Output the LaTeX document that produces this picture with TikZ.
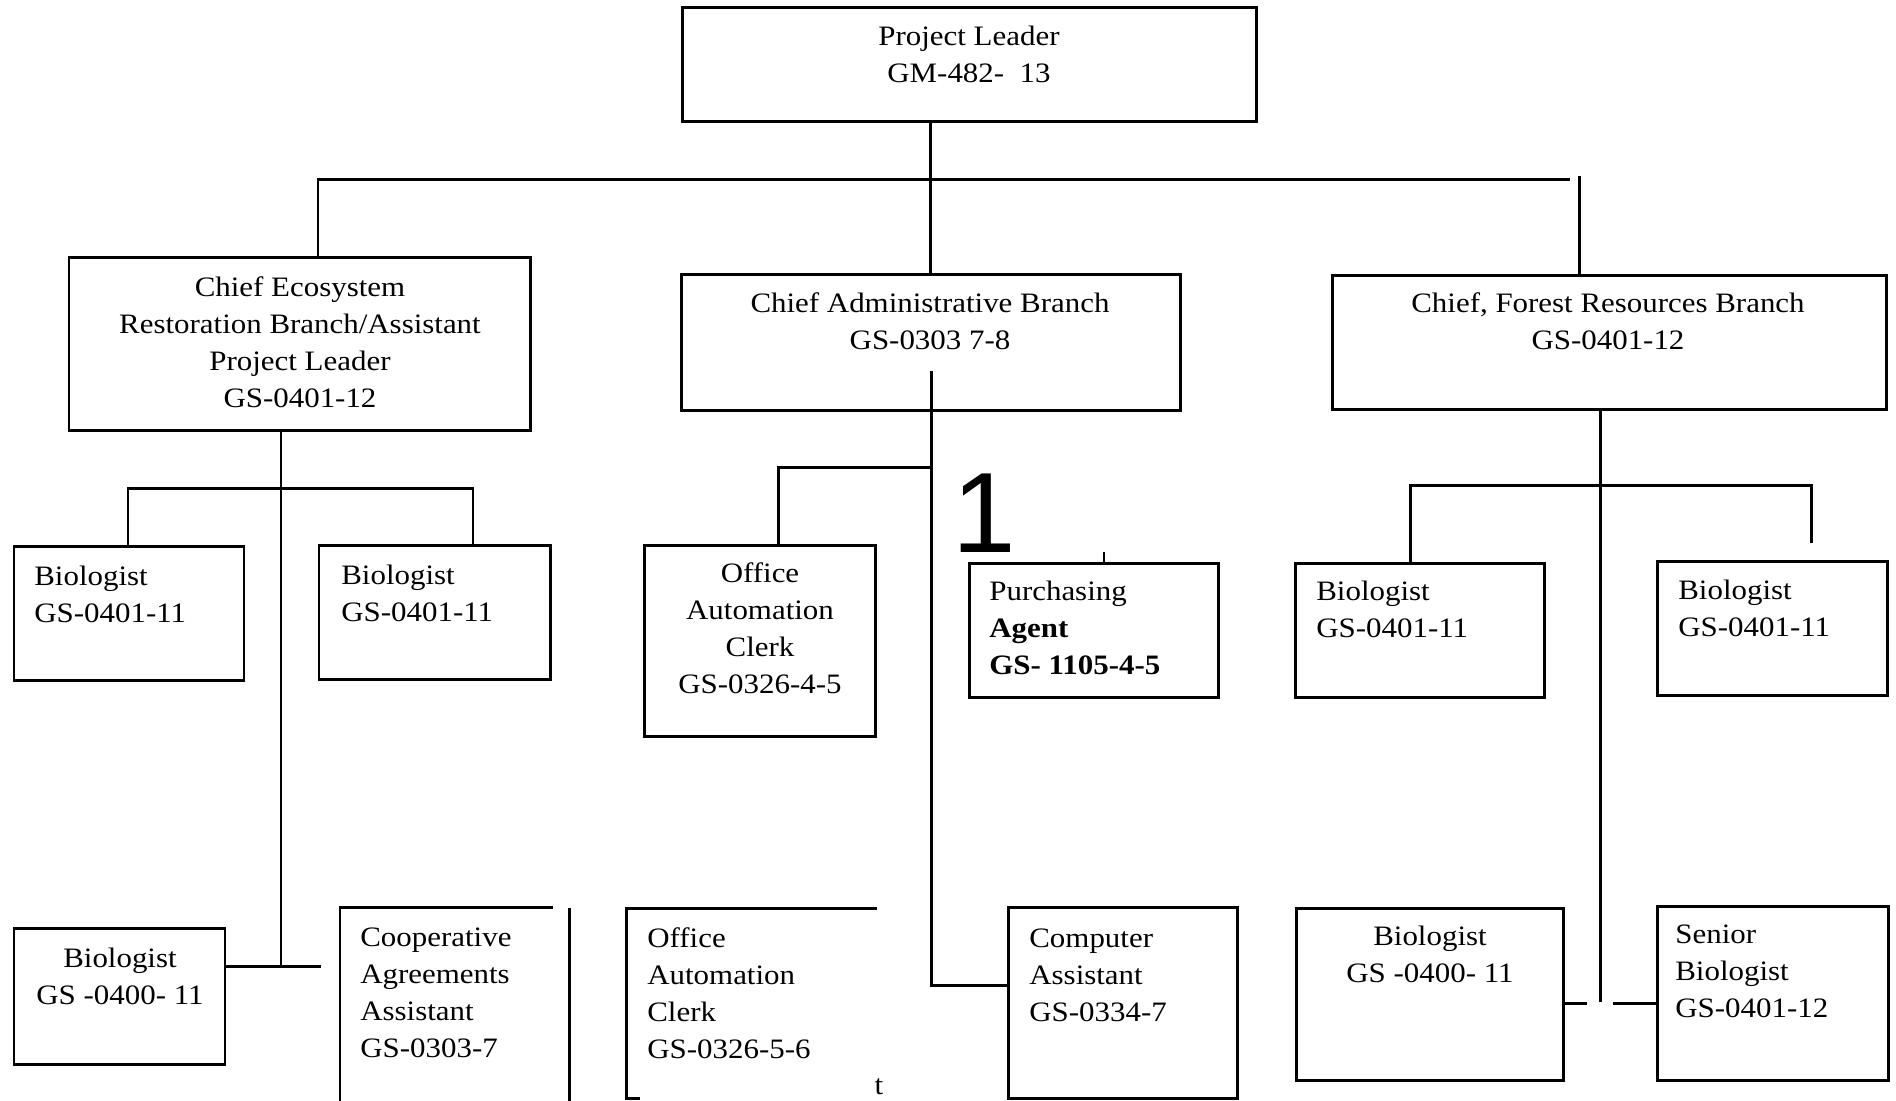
\documentclass[tikz,border=0pt]{standalone}
\usepackage{fontspec}
\setmainfont[FakeStretch=1.1]{Liberation Serif}
\newfontfamily\bigsans{Liberation Sans}
\usetikzlibrary{fit}

\begin{document}
\begin{tikzpicture}[x=0.02cm, y=-0.02cm,
  box/.style={draw, line width=1.7pt, inner sep=0pt, outer sep=0pt},
  frame/.style={inner sep=0pt, outer sep=0pt},
  txt/.style={font=\fontsize{16}{21}\selectfont, inner sep=0pt},
  ctxt/.style={txt, align=center, anchor=base},
  ltxt/.style={txt, align=left, anchor=base west},
  link/.style={line width=1.7pt}]
\useasboundingbox (0,0) rectangle (1896,1100);

% top (text nodes sit on the baseline of their last line)
\node[box, fit={(682,7) (1256,121)}] (pl) {};
\node[ctxt] (pl-t) at (969,82) {Project Leader\\GM-482-\ \ 13};

% chiefs
\node[box, fit={(69,257) (530,430)}] (eco) {};
\node[ctxt] (eco-t) at (300,407) {Chief Ecosystem\\Restoration Branch/Assistant\\Project Leader\\GS-0401-12};
\node[box, fit={(681,274) (1180,410)}] (adm) {};
\node[ctxt] (adm-t) at (930,349) {Chief Administrative Branch\\GS-0303 7-8};
\node[box, fit={(1332,275) (1886,409)}] (frs) {};
\node[ctxt] (frs-t) at (1608,349) {Chief, Forest Resources Branch\\GS-0401-12};

% lines to the chiefs
\draw[link] (adm.north |- pl.south) -- (adm.north);
\draw[link] (318,0 |- eco.north) -- (318,179) -- (1570,179);
\draw[link] (1579,176) -- (1579,0 |- frs.north);

% ecosystem branch
\node[box, fit={(14,546) (244,680)}] (bio1) {};
\node[ltxt] (bio1-t) at (34,622) {Biologist\\GS-0401-11};
\node[box, fit={(319,545) (550,679)}] (bio2) {};
\node[ltxt] (bio2-t) at (341,621) {Biologist\\GS-0401-11};
\node[box, fit={(14,928) (225,1064)}] (bio5) {};
\node[ctxt] (bio5-t) at (120,1004) {Biologist\\GS -0400-\ 11};
\node[frame, fit={(340,907) (569,1110)}] (caa) {};
\draw[link] (caa.south west) -- (caa.north west) -- (553,0 |- caa.north);
\draw[link] (caa.north east) ++(0,1) -- (caa.south east);
\node[ltxt] (caa-t) at (360,1057) {Cooperative\\Agreements\\Assistant\\GS-0303-7};

\draw[link] (281,0 |- eco.south) -- (281,966);
\draw[link] (bio1.north -| 128,0) -- (128,488) -- (473,488) -- (473,0 |- bio2.north);
\draw[link] (bio5.east |- 281,966) -- (321,966);

% administrative branch
\node[box, fit={(644,545) (875,736)}] (oac1) {};
\node[ctxt] (oac1-t) at (760,693) {Office\\Automation\\Clerk\\GS-0326-4-5};
\node[box, fit={(969,563) (1218,697)}] (pur) {};
\node[ltxt] (pur-t) at (989,674) {Purchasing\\\textbf{Agent}\\\textbf{GS- 1105-4-5}};
\node[frame, fit={(626,908) (877,1098)}] (oac2) {};
\draw[link] (oac2.north east) -- (oac2.north west) -- (oac2.south west) -- (640,0 |- oac2.south);
\node[ltxt] (oac2-t) at (647,1058) {Office\\Automation\\Clerk\\GS-0326-5-6};
\node[txt, anchor=base] (tick-t) at (879,1094) {t};
\node[box, fit={(1008,907) (1237,1098)}] (cmp) {};
\node[ltxt] (cmp-t) at (1029,1021) {Computer\\Assistant\\GS-0334-7};
\node[inner sep=0pt, anchor=base west, font=\bigsans\fontsize{65}{65}\selectfont] (one) at (952,552) {1};

\draw[link] (931,371) -- (931,985) -- (cmp.west |- 931,985);
\draw[link] (931,467) -- (778,467) -- (778,0 |- oac1.north);
\draw[line width=0.8pt] (1104,552) -- (1104,0 |- pur.north);

% forest branch
\node[box, fit={(1295,563) (1544,697)}] (bio3) {};
\node[ltxt] (bio3-t) at (1316,637) {Biologist\\GS-0401-11};
\node[box, fit={(1657,561) (1887,695)}] (bio4) {};
\node[ltxt] (bio4-t) at (1678,636) {Biologist\\GS-0401-11};
\node[box, fit={(1296,908) (1563,1080)}] (bio6) {};
\node[ctxt] (bio6-t) at (1430,982) {Biologist\\GS -0400-\ 11};
\node[box, fit={(1657,906) (1888,1080)}] (snr) {};
\node[ltxt] (snr-t) at (1675,1017) {Senior\\Biologist\\GS-0401-12};

\draw[link] (1600,0 |- frs.south) -- (1600,1002);
\draw[link] (1410,0 |- bio3.north) -- (1410,485) -- (1811,485) -- (1811,543);
\draw[link] (bio6.east |- 0,1003) -- (1587,1003);
\draw[link] (1613,1003) -- (snr.west |- 0,1003);
\end{tikzpicture}
\end{document}
